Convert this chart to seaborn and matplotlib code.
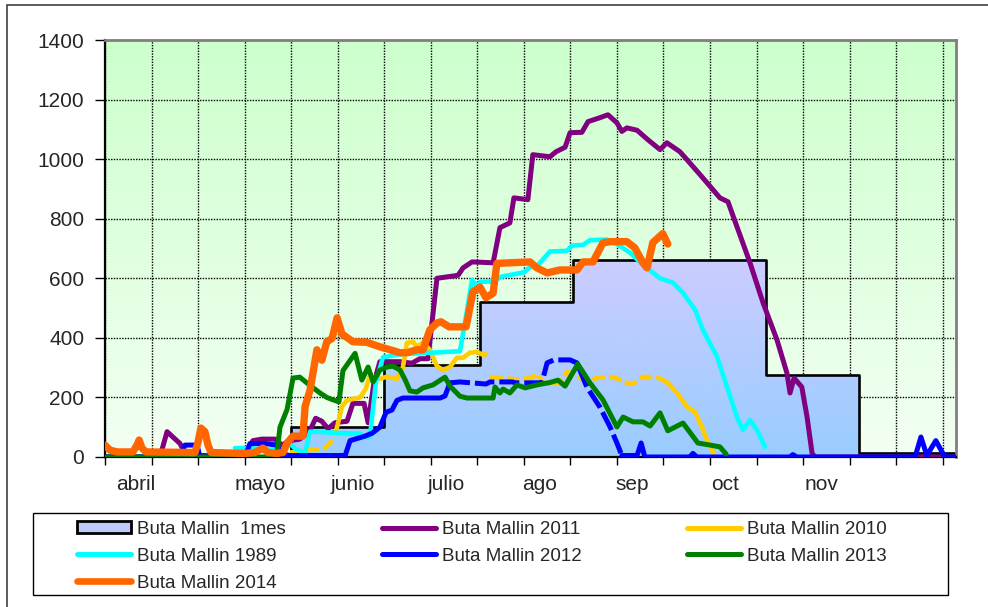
import numpy as np
import matplotlib
matplotlib.use("Agg")
import matplotlib.pyplot as plt
from matplotlib.patches import Rectangle, Patch
from matplotlib.lines import Line2D
import seaborn as sns

# --- Data: x = days counted from 1 April ---
month_start = [0, 30, 60, 90, 121, 151, 182, 213, 243, 274.3]
mes_vals = [0, 0, 100, 310, 520, 660, 660, 275, 15, 15]

month_pos = [10, 50, 80, 110, 140, 170, 200, 231]
month_names = ["abril", "mayo", "junio", "julio", "ago", "sep", "oct", "nov"]

d2011 = [0, 17.7, 20.0, 24.2, 26.1, 44.5, 47.7, 50.6, 54.8, 57.0, 59.6, 62.8, 66.1, 67.9, 69.9,
         71.9, 74.1, 78.0, 79.9, 83.5, 84.8, 86.7, 88.6, 95.1, 98.9, 101.5, 104.1, 107.0, 113.8,
         115.4, 118.3, 125.1, 127.3, 130.5, 131.8, 136.3, 137.9, 143.4, 145.4, 148.3, 149.9,
         153.7, 155.7, 159.5, 162.1, 165.0, 166.6, 168.2, 171.5, 175.0, 178.9, 181.1, 185.3,
         187.6, 191.8, 196.0, 198.2, 200.8, 203.7, 207.9, 212.1, 216.6, 219.8, 220.8, 222.1,
         224.6, 226.3, 227.9, 228.8, 274.3]
v2011 = [0, 0, 85, 45, 5, 5, 55, 60, 60, 40, 55, 60, 90, 130, 120,
         95, 115, 120, 180, 180, 115, 250, 320, 320, 315, 330, 330, 600, 610,
         635, 655, 652, 770, 786, 870, 864, 1015, 1008, 1025, 1040, 1089,
         1090, 1126, 1139, 1149, 1122, 1093, 1105, 1097, 1065, 1032, 1055, 1025,
         998, 948, 897, 870, 857, 773, 652, 518, 393, 282, 215, 265,
         235, 134, 13, 0, 0]

d2010a = [59.6, 67.0, 70.2, 72.5, 74.8, 76.4, 78.0, 82.2, 84.1, 85.4, 88.6, 90.9, 94.1, 96.0,
          97.3, 99.3, 100.5, 102.5, 104.7, 107.0, 108.9, 111.2, 113.4, 115.4, 117.6, 119.9,
          121.8, 122.8]
v2010a = [15, 25, 25, 45, 100, 170, 190, 200, 230, 275, 262, 270, 262, 300,
          383, 387, 370, 385, 360, 305, 292, 302, 333, 333, 350, 353,
          343, 345]
d2010b = [124.1, 131.2, 133.8, 137.9, 139.2, 141.2, 146.6, 148.9, 152.1, 155.3, 158.6, 163.7,
          168.2, 170.2, 173.4, 177.9, 181.1, 184.4, 187.6, 190.2, 192.4, 194.0, 195.6, 196.6]
v2010b = [269, 262, 259, 269, 280, 249, 249, 286, 275, 250, 266, 269,
          249, 245, 269, 268, 252, 215, 168, 151, 101, 57, 24, 0]

d1989 = [41.9, 46.7, 51.6, 58.0, 59.6, 61.6, 64.5, 66.1, 68.3, 75.7, 82.2, 84.4, 85.4, 87.3,
         89.6, 95.1, 104.7, 114.4, 116.0, 118.3, 119.9, 120.9, 125.4, 127.6, 135.0, 137.3,
         139.2, 143.4, 148.9, 150.5, 154.1, 156.3, 161.8, 165.0, 169.2, 173.4, 178.9, 183.1,
         186.3, 190.2, 192.7, 197.3, 200.5, 203.7, 205.6, 207.9, 210.1, 212.7]
v1989 = [30, 30, 25, 25, 45, 25, 15, 85, 85, 80, 78, 65, 70, 250,
         335, 345, 350, 355, 450, 595, 570, 588, 590, 605, 620, 640,
         640, 690, 692, 710, 712, 728, 730, 715, 686, 645, 600, 585,
         551, 494, 427, 336, 235, 134, 91, 124, 91, 34]

d2012 = [0, 24.2, 25.8, 29.7, 30.6, 45.1, 46.7, 51.6, 55.4, 57.0, 59.6, 77.4, 79.0, 83.8,
         86.1, 88.6, 90.6, 92.5, 94.1, 96.0, 108.0, 109.6, 111.2, 114.4, 122.8, 124.1, 131.2,
         132.5, 140.8, 142.5, 144.7, 149.9, 152.1, 155.3, 159.5, 162.8, 165.0, 166.6, 171.5,
         172.8, 174.0, 188.5, 189.5, 190.8, 220.8, 221.7, 223.0, 261.1, 263.0, 264.9, 267.8,
         270.7, 274.3]
v2012 = [0, 0, 40, 40, 0, 0, 45, 45, 40, 10, 5, 5, 55, 70,
         80, 100, 150, 158, 190, 198, 198, 205, 249, 252, 245, 252, 252,
         249, 249, 316, 326, 326, 316, 235, 168, 101, 47, 5, 5,
         47, 0, 0, 12, 0, 0, 8, 0, 0, 67, 5, 55,
         0, 0]

d2013 = [0, 53.2, 55.4, 56.4, 58.7, 60.6, 62.8, 66.1, 69.3, 71.5, 73.5, 75.4, 76.7, 80.6,
         82.8, 84.8, 86.4, 88.6, 90.9, 92.8, 95.1, 96.7, 98.3, 100.5, 102.5, 105.7, 109.6,
         111.2, 114.4, 116.7, 125.1, 125.7, 127.3, 128.3, 130.5, 132.8, 135.4, 139.2, 143.4,
         146.0, 148.3, 152.4, 156.3, 160.5, 165.0, 167.0, 170.2, 173.4, 175.7, 178.9, 181.4,
         186.3, 191.1, 195.0, 198.2, 200.2]
v2013 = [0, 0, 10, 100, 160, 265, 268, 240, 215, 200, 192, 185, 290, 348,
         258, 302, 252, 292, 302, 305, 292, 260, 222, 218, 232, 242, 268,
         238, 204, 198, 198, 235, 215, 228, 215, 242, 232, 242, 250,
         258, 238, 312, 249, 192, 101, 134, 118, 118, 104, 148, 88,
         114, 47, 40, 34, 10]

d2014 = [0, 1.6, 3.9, 5.5, 9.0, 10.3, 11.0, 11.9, 13.2, 29.0, 30.0, 30.9, 32.2, 33.2, 34.2,
         45.1, 48.3, 50.9, 52.5, 55.4, 57.4, 58.7, 60.6, 63.8, 64.5, 66.1, 68.3, 69.9, 71.5,
         73.2, 74.8, 76.4, 79.9, 84.4, 88.6, 91.9, 95.1, 97.3, 100.5, 102.5, 104.7, 107.0,
         108.3, 110.9, 116.4, 118.6, 120.9, 122.8, 125.1, 126.3, 137.0, 139.2, 142.5, 146.6,
         152.1, 154.1, 157.3, 160.5, 162.8, 168.2, 170.8, 173.4, 174.7, 176.6, 179.8, 181.4]
v2014 = [40, 23, 17, 17, 17, 40, 57, 30, 17, 15, 50, 97, 85, 40, 15,
         12, 15, 30, 15, 12, 15, 47, 70, 70, 170, 225, 360, 325, 387,
         398, 467, 413, 387, 385, 370, 360, 350, 350, 360, 360, 427, 450,
         454, 437, 437, 555, 570, 535, 550, 650, 655, 635, 618, 628,
         628, 655, 655, 719, 723, 723, 702, 652, 635, 720, 750, 715]

# --- Style ---
sns.set_theme(style="white")
plt.rcParams["font.family"] = ["Liberation Sans", "DejaVu Sans"]

fig = plt.figure(figsize=(9.88, 6.07), dpi=100)
ax = fig.add_axes([0.10628, 0.24712, 0.86133, 0.68698])
xmax = 274.3

# green background gradient
g = np.linspace(0, 1, 256)[:, None, None]
top = np.array([204, 255, 204]) / 255
bot = np.array([243, 255, 243]) / 255
bg = top * (1 - g) + bot * g
ax.imshow(bg, extent=[0, 1, 0, 1], transform=ax.transAxes, aspect="auto",
          origin="upper", zorder=0)

# monthly step area with blue/lavender gradient
area = ax.fill_between(month_start, mes_vals, step="post", facecolor="none",
                       edgecolor="black", lw=1.9, zorder=2)
ftop = np.array([204, 204, 255]) / 255
fbot = np.array([153, 204, 255]) / 255
fg = ftop * (1 - g) + fbot * g
im = ax.imshow(fg, extent=[0, xmax, 0, max(mes_vals)], aspect="auto",
               origin="upper", zorder=1.5)
im.set_clip_path(area.get_paths()[0], transform=ax.transData)


def draw(days, vals, color, lw, dashed=None, dash=(3, 1)):
    days = np.asarray(days, float)
    vals = np.asarray(vals, float)
    parts = []
    if dashed is None:
        parts.append((days[0], days[-1], "-"))
    else:
        a, b = dashed
        if a > days[0]:
            parts.append((days[0], a, "-"))
        parts.append((a, b, (0, dash)))
        if b < days[-1]:
            parts.append((b, days[-1], "-"))
    for lo, hi, ls in parts:
        m = (days >= lo) & (days <= hi)
        sns.lineplot(x=days[m], y=vals[m], ax=ax, color=color, lw=lw, linestyle=ls,
                     estimator=None, sort=False, legend=False, zorder=3,
                     solid_capstyle="round", solid_joinstyle="round")


c_2011, c_2010, c_1989 = "#800080", "#FFCC00", "#00FFFF"
c_2012, c_2013, c_2014 = "#0000FF", "#008000", "#FF6600"

draw(d2011, v2011, c_2011, 3.6)
draw(d2010a, v2010a, c_2010, 3.3, dashed=(59.6, 74.8), dash=(2.8, 0.9))
draw(d2010b, v2010b, c_2010, 3.3, dashed=(124.1, 181.1), dash=(2.8, 0.9))
draw(d1989, v1989, c_1989, 3.3)
draw(d2012, v2012, c_2012, 3.6, dashed=(111.2, 166.6), dash=(4, 1))
draw(d2013, v2013, c_2013, 3.6)
draw(d2014, v2014, c_2014, 5.3)

# axes, ticks, grid
ax.set_xlim(0, xmax)
ax.set_ylim(0, 1400)
ax.set_xticks(np.arange(0, 271, 15))
ax.set_xticks(month_pos, minor=True)
ax.set_xticklabels(month_names, minor=True)
ax.set_yticks(np.arange(0, 1401, 200))
ax.tick_params(axis="x", which="major", labelbottom=False, length=6, width=1,
               color="black", direction="out", bottom=True)
ax.tick_params(axis="x", which="minor", length=0, pad=13, labelsize=15)
ax.tick_params(axis="y", length=7, width=1, color="black", direction="out",
               left=True, pad=8, labelsize=15)
ax.set_axisbelow(True)
ax.grid(True, which="major", color="black", lw=1.0, ls=(0, (1.0, 1.0)))
ax.set_xlabel("")
ax.set_ylabel("")
for side in ["top", "right"]:
    ax.spines[side].set_color("#808080")
    ax.spines[side].set_linewidth(2)
for side in ["left", "bottom"]:
    ax.spines[side].set_color("black")
    ax.spines[side].set_linewidth(1.6)

# outer chart frame
fig.add_artist(Rectangle((7 / 988, -0.1), 1.2, 1.1 - 5 / 607, transform=fig.transFigure,
                         fill=False, edgecolor="#404040", lw=1.2))

# legend box and three legend columns
fig.add_artist(Rectangle((33 / 988, 1 - 595 / 607), 915 / 988, 82 / 607,
                         transform=fig.transFigure, fill=False, edgecolor="black", lw=1))

h_mes = Patch(facecolor="#BBCCF8", edgecolor="black", lw=2, label="Buta Mallin  1mes")


def ln(c, lw=3.6):
    return Line2D([], [], color=c, lw=lw, solid_capstyle="round")


cols = [
    (77, [h_mes, ln(c_1989), ln(c_2014, 4.8)],
     ["Buta Mallin  1mes", "Buta Mallin 1989", "Buta Mallin 2014"]),
    (382, [ln(c_2011), ln(c_2012)], ["Buta Mallin 2011", "Buta Mallin 2012"]),
    (687, [ln(c_2010), ln(c_2013)], ["Buta Mallin 2010", "Buta Mallin 2013"]),
]
for xpx, hs, labs in cols:
    fig.legend(hs, labs, loc="upper left", bbox_to_anchor=(xpx / 988, 1 - 521 / 607),
               frameon=False, fontsize=13.5, handlelength=2.9, handletextpad=0.3,
               labelspacing=0.52, borderpad=0, borderaxespad=0, handleheight=0.6)

fig.savefig("out.png", dpi=100)
